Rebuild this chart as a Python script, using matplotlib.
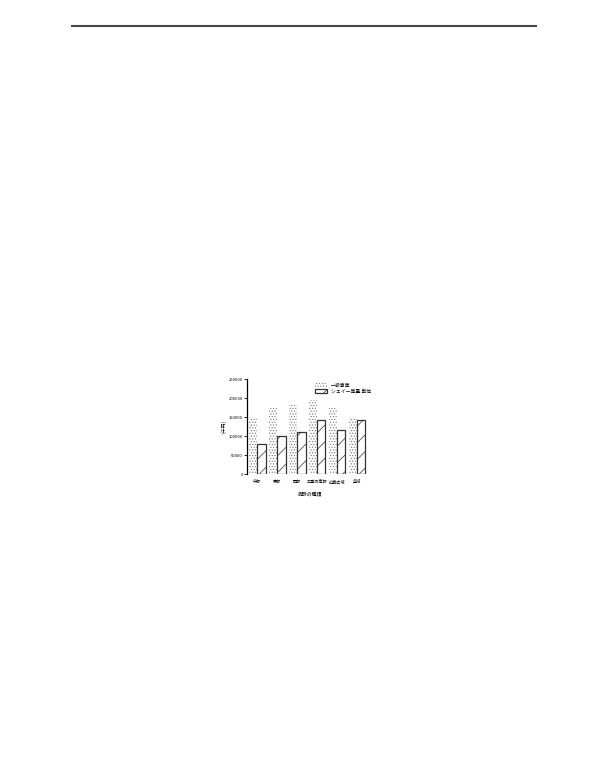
import numpy as np
import matplotlib.pyplot as plt
from matplotlib.lines import Line2D

plt.rcParams['font.family'] = ['Noto Sans CJK JP', 'DejaVu Sans']
plt.rcParams['hatch.linewidth'] = 0.5

# data (approximate)
categories = ['中部', '東部', '西部', '三重県南部', '近畿広域', '全域']
series_a = [150000, 175000, 185000, 195000, 175000, 150000]
series_b = [80000, 100000, 110000, 143000, 117000, 143000]
legend_labels = ['一般事業', 'シェイー等量 単位']
yticks = [0, 50000, 100000, 150000, 200000, 250000]

fig = plt.figure(figsize=(6, 7.68), dpi=100)

# rule at top of page
fig.add_artist(Line2D([0.12, 0.893], [0.966, 0.966], color='#444444', linewidth=1.5))

ax = fig.add_axes([0.412, 0.3824, 0.208, 0.124], facecolor='none')

x = np.arange(len(categories))
w = 0.42
ax.bar(x - w / 2, series_a, w, color='white', edgecolor='#777777',
       hatch='......', linewidth=0, label=legend_labels[0])
ax.bar(x + w / 2, series_b, w, color='white', edgecolor='#333333',
       hatch='//', linewidth=0.9, label=legend_labels[1])

ax.set_xlim(-0.5, 5.75)
ax.set_ylim(0, 250000)
ax.set_yticks(yticks)
ax.set_yticklabels([str(v) for v in yticks], fontsize=3)
ax.set_xticks(x)
ax.set_xticklabels(categories, fontsize=3)
ax.tick_params(axis='x', length=0, pad=4)
ax.tick_params(axis='y', length=2, width=0.6, pad=1)
for s in ['top', 'right', 'bottom']:
    ax.spines[s].set_visible(False)
ax.spines['left'].set_linewidth(0.9)

ax.set_ylabel('(千円)', fontsize=3.5, labelpad=2)
ax.set_xlabel('施設の種類', fontsize=3.5, labelpad=5)

ax.legend(loc='upper right', bbox_to_anchor=(1.02, 1.0), fontsize=3.5,
          frameon=False, handlelength=2.5, handleheight=1.0, borderpad=0.2,
          labelspacing=0.2)

fig.savefig('out.png', dpi=100)
